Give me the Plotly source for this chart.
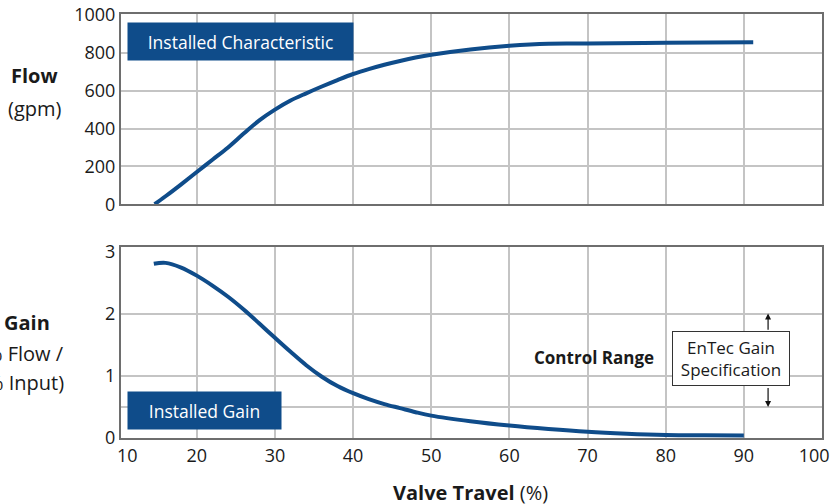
import plotly.graph_objects as go

# ---- data ----
flow_travel = [14.6, 16, 18, 20, 22, 24, 26, 28, 30, 32, 34, 36, 38, 40, 42, 44, 46, 48, 50, 55, 60,
               65, 70, 80, 91.2]
flow_gpm = [0, 42, 105, 170, 235, 300, 373, 443, 500, 548, 586, 622, 656, 688, 714, 737, 757, 775, 790,
            818, 837, 848, 849, 853, 856]

gain_travel = [14.5, 16, 18, 20, 22, 24, 26, 28, 30, 32, 34, 36, 38, 40, 42, 44, 46, 48, 50, 55, 60,
               65, 70, 75, 80, 85, 90]
gain_value = [2.80, 2.815, 2.74, 2.61, 2.45, 2.27, 2.065, 1.84, 1.61, 1.385, 1.17, 0.985, 0.835, 0.72,
              0.625, 0.545, 0.48, 0.415, 0.36, 0.27, 0.20, 0.145, 0.10, 0.07, 0.05, 0.043, 0.04]

x_ticks = [10, 20, 30, 40, 50, 60, 70, 80, 90, 100]
x_tick_labels = ["10", "20", "30", "40", "50", "60", "70", "80", "90", "100"]
flow_ticks = [0, 200, 400, 600, 800, 1000]
gain_ticks = [0, 1, 2, 3]
gain_grid = [0.5, 1, 2]
gain_spec = [0.5, 2.0]

BLUE = "#0f4c8a"
GRID = "#c4c4c4"
FRAME = "#6e6e6e"
TXT = "#1a1a1a"
FONT = "Open Sans"

# end labels sit inside the frame in the reference
label_pos = list(x_ticks)
label_pos[0] = x_ticks[0] + 1.1
label_pos[-1] = x_ticks[-1] - 1.0

fig = go.Figure()
fig.add_trace(go.Scatter(x=flow_travel, y=flow_gpm, mode="lines", xaxis="x", yaxis="y",
                         line=dict(color=BLUE, width=4, shape="spline", smoothing=1),
                         showlegend=False))
fig.add_trace(go.Scatter(x=gain_travel, y=gain_value, mode="lines", xaxis="x2", yaxis="y2",
                         line=dict(color=BLUE, width=4, shape="spline", smoothing=1),
                         showlegend=False))

xcommon = dict(range=[10.3, 100], showgrid=False, showline=True, linecolor=FRAME, linewidth=2,
               mirror=True, ticks="", zeroline=False, automargin=False,
               minor=dict(tickvals=x_ticks[1:-1], showgrid=True, gridcolor=GRID, gridwidth=1.5, ticks=""),
               tickfont=dict(family=FONT, size=18, color=TXT))

fig.update_layout(
    width=833, height=504,
    margin=dict(l=121, r=11, t=14, b=66, autoexpand=False),
    paper_bgcolor="white", plot_bgcolor="white",
    font=dict(family=FONT, color=TXT),
    xaxis=dict(xcommon, domain=[0, 1], anchor="y", showticklabels=False,
               tickvals=label_pos, ticktext=x_tick_labels),
    yaxis=dict(domain=[0.5514, 1], anchor="x", range=[0, 1005], tickvals=flow_ticks,
               showgrid=True, gridcolor=GRID, gridwidth=1.5, showline=True, linecolor=FRAME,
               linewidth=2, mirror=True, ticks="", zeroline=False, automargin=False,
               tickfont=dict(family=FONT, size=18, color=TXT)),
    xaxis2=dict(xcommon, domain=[0, 1], anchor="y2", showticklabels=True,
                tickvals=label_pos, ticktext=x_tick_labels),
    yaxis2=dict(domain=[0, 0.451], anchor="x2", range=[0, 3.074], tickvals=gain_ticks,
                showgrid=False, showline=True, linecolor=FRAME, linewidth=2, mirror=True,
                ticks="", zeroline=False, automargin=False,
                minor=dict(tickvals=gain_grid, showgrid=True, gridcolor=GRID, gridwidth=1.5, ticks=""),
                tickfont=dict(family=FONT, size=18, color=TXT)),
)

C = dict(xanchor="center", yanchor="middle")
ann = []
# boxed labels
ann.append(dict(C, x=25.6, y=860, xref="x", yref="y", text="Installed Characteristic", showarrow=False,
                bgcolor=BLUE, width=225, height=37, borderpad=0,
                font=dict(family=FONT, size=17.5, color="white")))
ann.append(dict(C, x=20.99, y=0.448, xref="x2", yref="y2", text="Installed Gain", showarrow=False,
                bgcolor=BLUE, width=153, height=37, borderpad=0,
                font=dict(family=FONT, size=17.5, color="white")))
ann.append(dict(C, x=70.86, y=1.295, xref="x2", yref="y2", text="<b>Control Range</b>", showarrow=False,
                font=dict(family=FONT, size=17, color=TXT)))
ann.append(dict(C, x=88.4, y=1.27, xref="x2", yref="y2", text="EnTec Gain<br>Specification",
                showarrow=False, bgcolor="white", bordercolor="#333333", borderwidth=1,
                width=116, height=53, borderpad=0,
                font=dict(family=FONT, size=17, color=TXT)))
# spec arrows
ann.append(dict(x=93.1, y=gain_spec[1], ax=93.1, ay=1.716, xref="x2", yref="y2", axref="x2", ayref="y2",
                text="", showarrow=True, arrowhead=2, arrowsize=1, arrowwidth=1.2, arrowcolor="#111111"))
ann.append(dict(x=93.1, y=gain_spec[0], ax=93.1, ay=0.827, xref="x2", yref="y2", axref="x2", ayref="y2",
                text="", showarrow=True, arrowhead=2, arrowsize=1, arrowwidth=1.2, arrowcolor="#111111"))
# axis titles
ann.append(dict(C, x=-0.1227, y=0.856, xref="paper", yref="paper", text="<b>Flow</b>", showarrow=False,
                font=dict(family=FONT, size=20, color=TXT)))
ann.append(dict(C, x=-0.1227, y=0.7781, xref="paper", yref="paper", text="(gpm)", showarrow=False,
                font=dict(family=FONT, size=20, color=TXT)))
ann.append(dict(C, x=-0.134, y=0.2727, xref="paper", yref="paper", text="<b>Gain</b>", showarrow=False,
                font=dict(family=FONT, size=20, color=TXT)))
ann.append(dict(x=-0.0785, y=0.1995, xref="paper", yref="paper", xanchor="right", yanchor="middle",
                text="(% Flow /", showarrow=False, font=dict(family=FONT, size=20, color=TXT)))
ann.append(dict(x=-0.0785, y=0.131, xref="paper", yref="paper", xanchor="right", yanchor="middle",
                text="% Input)", showarrow=False, font=dict(family=FONT, size=20, color=TXT)))
ann.append(dict(C, x=0.498, y=-0.1287, xref="paper", yref="paper",
                text="<b>Valve Travel</b> (%)", showarrow=False,
                font=dict(family=FONT, size=20, color=TXT)))
fig.update_layout(annotations=ann)

fig.write_html("out.html", config={"displayModeBar": False},
               post_script="document.body.style.margin='0';document.body.style.overflow='hidden';")
